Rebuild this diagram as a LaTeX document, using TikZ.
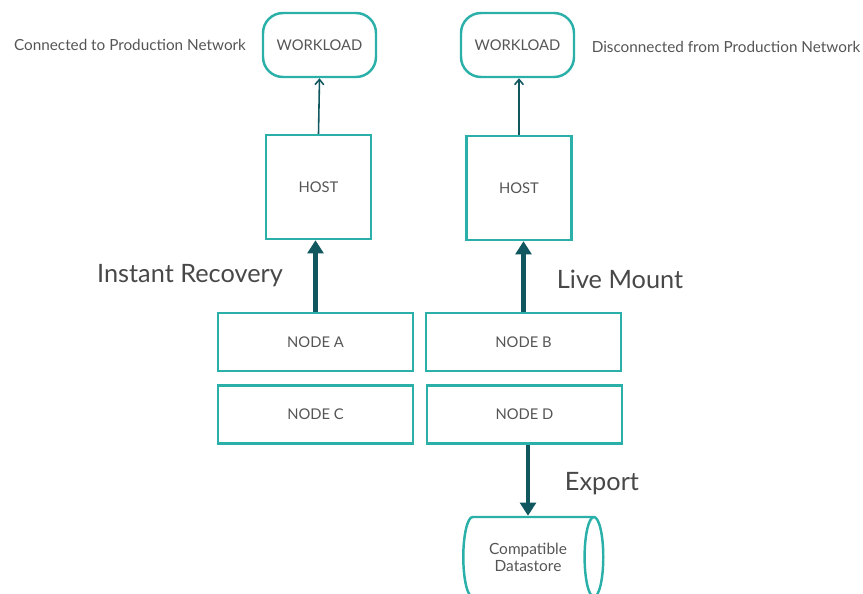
\documentclass[tikz,border=0pt]{standalone}
\usepackage{fontspec}
\setmainfont{Lato}
\usepackage{tikz}
\usetikzlibrary{shapes.geometric,arrows.meta,calc}
\definecolor{boxline}{HTML}{2AB0A8}
\definecolor{arrowc}{HTML}{10575F}
\definecolor{txtc}{HTML}{555555}

\begin{document}
\begin{tikzpicture}[x=0.02cm,y=-0.02cm,
	box/.style={draw=boxline,line width=1.4pt,text=txtc,font=\fontsize{8.4}{10}\selectfont},
	bigtxt/.style={text=txtc!85!black,font=\fontsize{14.4}{16}\selectfont},
	linkarrow/.style={arrowc,line width=0.9pt,-{Straight Barb[length=3pt,width=5pt]}},
	flowarrow/.style={arrowc,line width=2.3pt,-{Triangle[length=7.5pt,width=9pt]}}]
	\clip (0,0) rectangle (863,593);
	% top row
	\node[box,rounded corners=0.4cm,minimum width=2.26cm,minimum height=1.28cm] (wlL) at (319.5,45) {WORKLOAD};
	\node[box,rounded corners=0.4cm,minimum width=2.26cm,minimum height=1.28cm] (wlR) at (517.5,45) {WORKLOAD};
	\node[text=txtc,font=\fontsize{8.7}{10}\selectfont] (conn) at (130,45) {Connected to Production Network};
	\node[text=txtc,font=\fontsize{8.7}{10}\selectfont] (disc) at (726,47) {Disconnected from Production Network};
	% hosts
	\node[box,minimum width=2.1cm,minimum height=2.08cm] (hostL) at (318.5,187) {HOST};
	\node[box,minimum width=2.1cm,minimum height=2.08cm] (hostR) at (519,188) {HOST};
	\draw[linkarrow] (hostL.north) -- (wlL.south);
	\draw[linkarrow] (hostR.north) -- (hostR.north |- wlR.south);
	% cluster nodes
	\node[box,minimum width=3.9cm,minimum height=1.16cm] (nodeA) at (315.5,342) {NODE A};
	\node[box,minimum width=3.9cm,minimum height=1.16cm] (nodeB) at (523.5,342) {NODE B};
	\node[box,minimum width=3.9cm,minimum height=1.16cm] (nodeC) at (315.5,414.5) {NODE C};
	\node[box,minimum width=3.9cm,minimum height=1.16cm] (nodeD) at (524.5,414.5) {NODE D};
	\draw[flowarrow] (nodeA.north) -- (nodeA.north |- hostL.south);
	\draw[flowarrow] (nodeB.north) -- (nodeB.north |- hostR.south);
	\node[bigtxt] (ir) at (190,276) {Instant Recovery};
	\node[bigtxt] (lm) at (620,279) {Live Mount};
	% export
	\node[box,cylinder,shape aspect=0.65,minimum width=1.6cm,minimum height=2.8cm,align=center,inner sep=0pt,font=\fontsize{8.8}{9.8}\selectfont] (store) at (528,557) {Compatible\\Datastore};
	\draw[flowarrow] (store.north |- nodeD.south) -- (store.north);
	\node[bigtxt] (ex) at (602,484) {Export};
\end{tikzpicture}
\end{document}
